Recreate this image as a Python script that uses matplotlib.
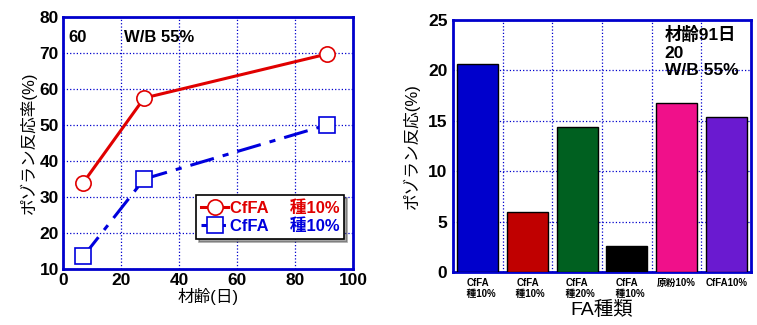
import matplotlib
matplotlib.use('Agg')
import matplotlib.pyplot as plt
import numpy as np

plt.rcParams['font.family'] = ['Liberation Sans', 'Noto Sans CJK JP', 'DejaVu Sans']
plt.rcParams['font.weight'] = 'bold'

# left chart: reaction ratio vs age
age = [7, 28, 91]
red_vals = [34.0, 57.5, 69.7]
blue_vals = [13.5, 35.0, 50.0]

# right chart: reaction at 91 days
bar_labels = ['CfFA\n  種10%', 'CfFA\n  種10%', 'CfFA\n  種20%', 'CfFA\n  種10%', '原粉10%', 'CfFA10%']
bar_vals = [20.6, 6.0, 14.4, 2.6, 16.8, 15.4]
bar_colors = ['#0000CC', '#C00000', '#006020', '#000000', '#F0108A', '#6A1AD0']

fig = plt.figure(figsize=(7.57, 3.25), dpi=100)

frame_col = '#0000CC'
grid_kw = dict(color='#0000CC', linestyle=':', linewidth=0.9)

# ---------- left ----------
ax1 = fig.add_axes([63/757, 56/325, 290/757, 252/325])
ax1.plot(age, red_vals, color='#E00000', lw=2.2, marker='o', ms=11,
         mfc='white', mec='#E00000', mew=1.2, label='CfFA\u3000 種10%', zorder=3)
ax1.plot(age, blue_vals, color='#0000DD', lw=2.2, ls=(0, (8, 3, 2, 3)), marker='s', ms=11,
         mfc='white', mec='#0000DD', mew=1.2, label='CfFA\u3000 種10%', zorder=3)
ax1.set_xlim(0, 100)
ax1.set_ylim(10, 80)
ax1.set_xticks(np.arange(0, 101, 20))
ax1.set_yticks(np.arange(10, 81, 10))
ax1.grid(True, **grid_kw)
for s in ax1.spines.values():
    s.set_color(frame_col)
    s.set_linewidth(2)
ax1.tick_params(length=0, labelsize=12.5, pad=3)
ax1.set_xlabel('材齢(日)', fontsize=12, labelpad=0)
ax1.set_ylabel('ポゾラン反応率(%)', fontsize=12, labelpad=2)
ax1.text(0.02, 0.95, '60', transform=ax1.transAxes, fontsize=12, va='top')
ax1.text(0.21, 0.95, 'W/B 55%', transform=ax1.transAxes, fontsize=12, va='top')
leg = ax1.legend(loc='lower right', bbox_to_anchor=(0.97, 0.12), fontsize=12,
                 frameon=True, fancybox=False, shadow=True, edgecolor='black',
                 handlelength=1.6, handletextpad=0.1, borderpad=0.3,
                 labelspacing=0.15, borderaxespad=0)
leg.get_frame().set_linewidth(1.2)
for t, c in zip(leg.get_texts(), ['#E00000', '#0000DD']):
    t.set_color(c)

# ---------- right ----------
ax2 = fig.add_axes([453/757, 53/325, 298/757, 252/325])
xpos = np.arange(len(bar_vals)) + 0.5
ax2.bar(xpos, bar_vals, width=0.82, color=bar_colors, edgecolor='black', linewidth=1, zorder=3)
ax2.set_xlim(0, 6)
ax2.set_ylim(0, 25)
ax2.set_yticks(np.arange(0, 26, 5))
ax2.set_xticks(xpos)
ax2.set_xticklabels(bar_labels, fontsize=7)
ax2.set_xticks(np.arange(1, 6), minor=True)
ax2.grid(True, which='minor', axis='x', **grid_kw)
ax2.grid(True, which='major', axis='y', **grid_kw)
for s in ax2.spines.values():
    s.set_color(frame_col)
    s.set_linewidth(2)
ax2.tick_params(which='both', length=0, labelsize=12.5, pad=4)
ax2.tick_params(axis='x', labelsize=7, pad=4)
ax2.set_xlabel('FA種類', fontsize=14, labelpad=1)
ax2.set_ylabel('ポゾラン反応(%)', fontsize=12, labelpad=6)
ax2.text(0.71, 0.975, '材齢91日\n20\nW/B 55%', transform=ax2.transAxes,
         fontsize=12.5, va='top', linespacing=1.2)

fig.savefig('out.png', dpi=100)
